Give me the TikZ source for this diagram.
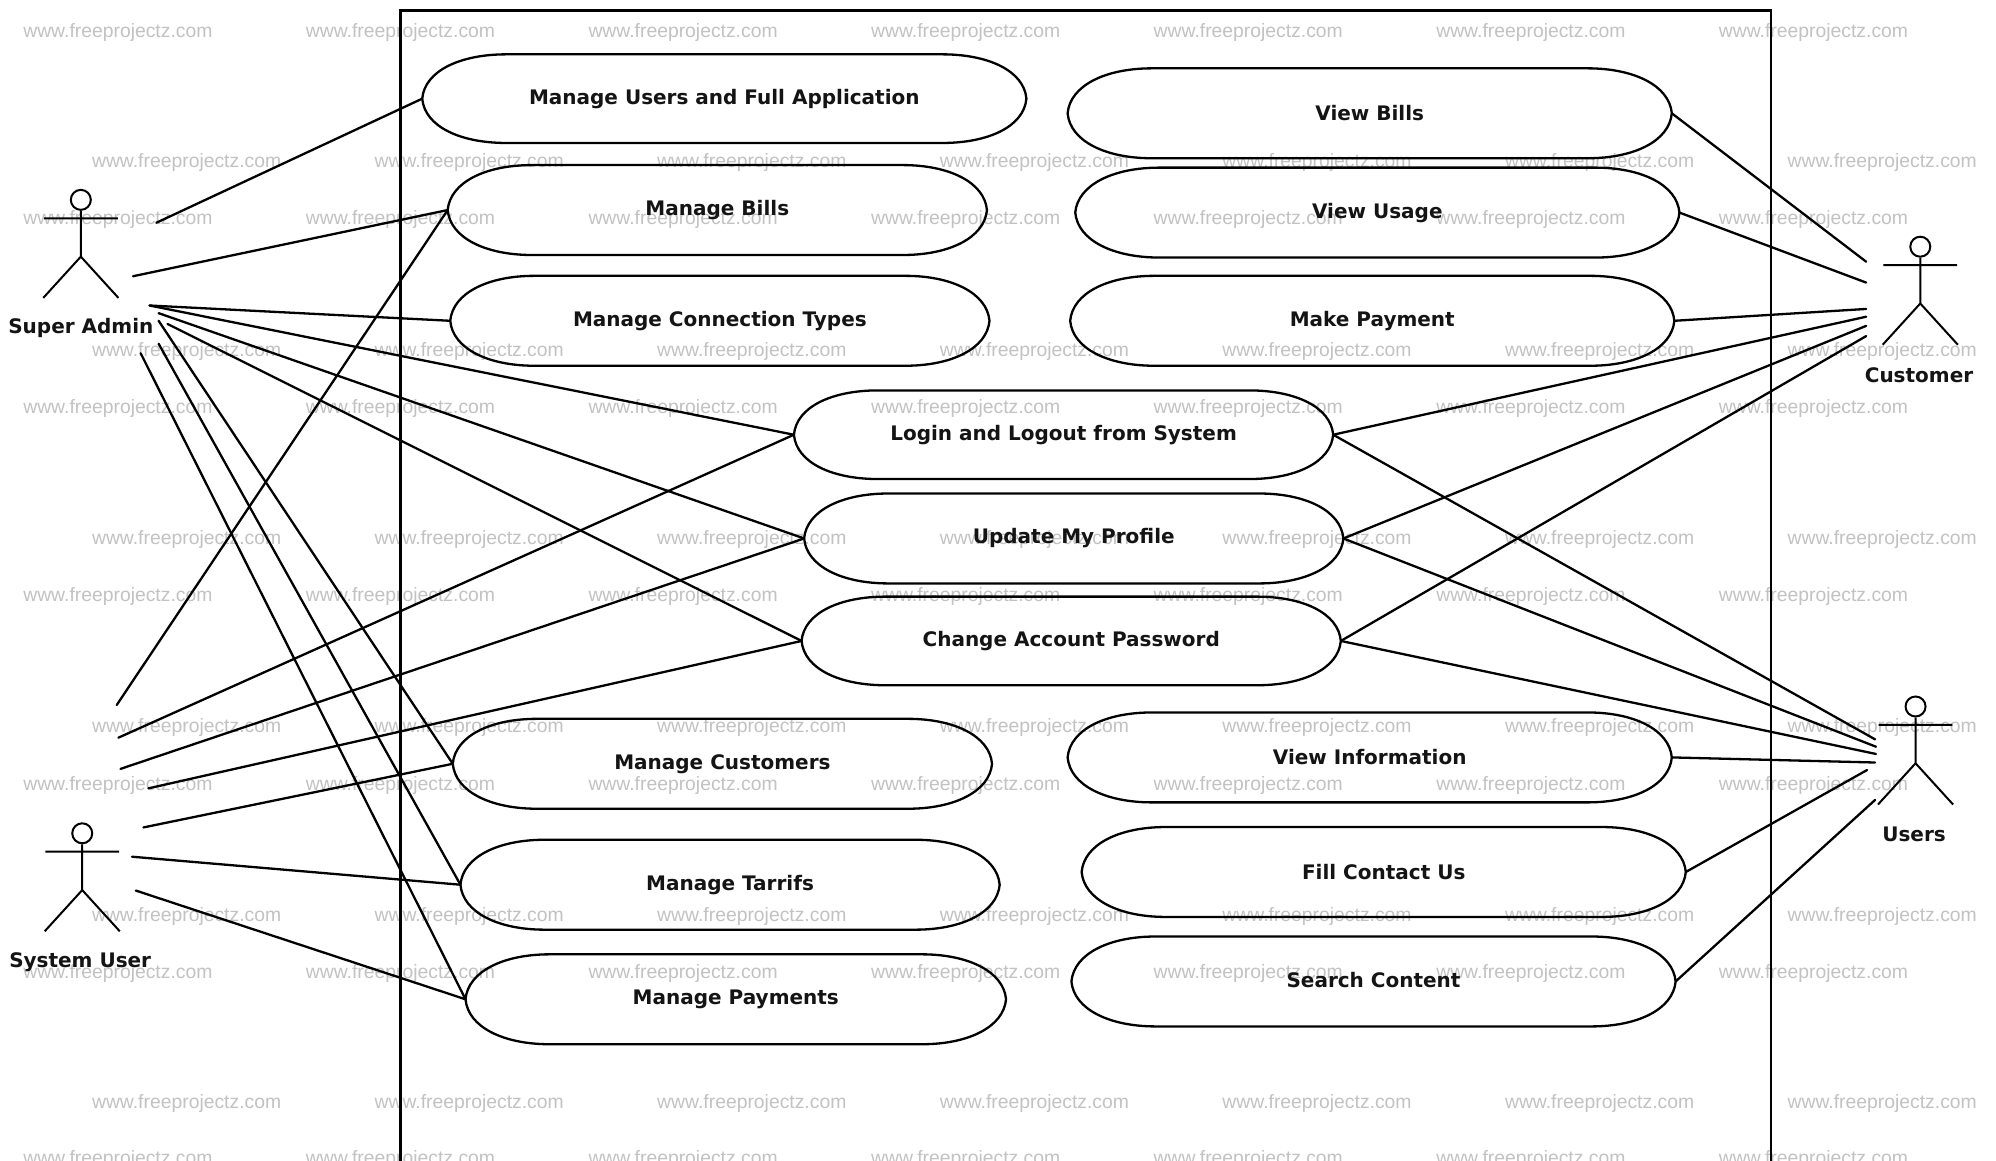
\documentclass[tikz,border=0pt]{standalone}
\usepackage{fontspec}
\setmainfont{DejaVu Sans}
\newfontfamily\wmfont{Liberation Sans}
\usetikzlibrary{calc}
\tikzset{
  x=0.6365pt, y=-0.6365pt,
  link/.style={draw=black, line width=1.15pt, line cap=round},
  outline/.style={draw=black, line width=1.15pt, line join=round},
  frameline/.style={draw=black, line width=1.2pt},
  watermark/.style={text=black!24, font=\wmfont\fontsize{9.67}{11}\selectfont, inner sep=0pt},
  uclabel/.style={font=\bfseries\fontsize{10}{11}\selectfont, text=black!92, inner sep=0pt, shape=rectangle},
  actorlabel/.style={font=\bfseries\fontsize{10}{11}\selectfont, text=black!92, inner sep=0pt},
  actorline/.style={draw=black, line width=1pt},
  head/.style={circle, draw=black, line width=1pt, inner sep=0pt, minimum size=10pt}
}
% [text raise], name, left, right, top, bottom, text
\newcommand\usecasebox[7][-0.5pt]{%
  \node[uclabel, minimum width={(#4-#3)*0.6365pt}, minimum height={(#6-#5)*0.6365pt}] (#2) at ({(#3+#4)/2},{(#5+#6)/2}) {\raisebox{#1}{#7}};
  \draw[outline] (#2.west)
    .. controls ($(#2.west)+(2,-22)$) and ($(#2.north west)+(30,0)$) .. ($(#2.north west)+(66,0)$)
    -- ($(#2.north east)+(-66,0)$)
    .. controls ($(#2.north east)+(-30,0)$) and ($(#2.east)+(-2,-22)$) .. (#2.east)
    .. controls ($(#2.east)+(-2,22)$) and ($(#2.south east)+(-30,0)$) .. ($(#2.south east)+(-66,0)$)
    -- ($(#2.south west)+(66,0)$)
    .. controls ($(#2.south west)+(30,0)$) and ($(#2.west)+(2,22)$) .. (#2.west) -- cycle;
}
% name, head x, head y, label x, label y, text
\newcommand\umlactor[6]{%
  \node[head] (#1head) at (#2,#3) {};
  \coordinate (#1hip) at (#2,#3+44.6);
  \coordinate (#1armL) at (#2-29,#3+14.5);
  \coordinate (#1armR) at (#2+29,#3+14.5);
  \coordinate (#1footL) at (#2-29.5,#3+77);
  \coordinate (#1footR) at (#2+29.5,#3+77);
  \draw[actorline] (#1head) -- (#1hip) (#1armL) -- (#1armR) (#1footL) -- (#1hip) -- (#1footR);
  \node[actorlabel] (#1label) at (#4,#5) {#6};
}
\begin{document}
\begin{tikzpicture}
\useasboundingbox (0,0) rectangle (1568,911.3);
\clip (0,0) rectangle (1568,911.3);
\fill[white] (0,0) rectangle (1568,911.3);
% watermarks
\foreach \wy [count=\i] in {25.8,172.8,320.8,468.8,616.8,764.8,910.5}
  \foreach \wx [count=\j] in {92.6,314.6,536.6,758.6,980.6,1202.6,1424.6}
    \node[watermark] (wa\i\j) at (\wx,\wy) {www.freeprojectz.com};
\foreach \wy [count=\i] in {127.8,275.8,423.8,571.8,719.8,866.8}
  \foreach \wx [count=\j] in {146.6,368.6,590.6,812.6,1034.6,1256.6,1478.6}
    \node[watermark] (wb\i\j) at (\wx,\wy) {www.freeprojectz.com};
% system boundary
\coordinate (fbl) at (314.5,915);
\coordinate (ftl) at (314.5,8);
\coordinate (ftr) at (1391,8);
\coordinate (fbr) at (1391,915);
\draw[frameline] (fbl) -- (ftl) -- (ftr) -- (fbr);
\draw[frameline, line width=1.6pt] (ftl) -- (ftr);
% use cases
\usecasebox{ucFull}{332}{806}{43}{112}{Manage Users and Full Application}
\usecasebox{ucBills}{352}{775}{130}{200}{Manage Bills}
\usecasebox{ucConn}{354}{777}{217}{287}{Manage Connection Types}
\usecasebox{ucLogin}{624}{1047}{307}{376}{Login and Logout from System}
\usecasebox[0pt]{ucProfile}{632}{1055}{388}{458}{Update My Profile}
\usecasebox[0pt]{ucPass}{630}{1053}{469}{538}{Change Account Password}
\usecasebox[-1pt]{ucCust}{356}{779}{565}{635}{Manage Customers}
\usecasebox{ucTarr}{362}{785}{660}{730}{Manage Tarrifs}
\usecasebox{ucPay}{366}{790}{750}{820}{Manage Payments}
\usecasebox[0.5pt]{ucVBills}{839}{1313}{54}{124}{View Bills}
\usecasebox{ucVUse}{845}{1319}{132}{202}{View Usage}
\usecasebox{ucMake}{841}{1315}{217}{287}{Make Payment}
\usecasebox[0pt]{ucInfo}{839}{1313}{560}{630}{View Information}
\usecasebox[0pt]{ucFill}{850}{1324}{650}{720}{Fill Contact Us}
\usecasebox[1.2pt]{ucSearch}{842}{1316}{736}{806}{Search Content}
% actors
\umlactor{sa}{63.5}{157}{63.5}{258}{Super Admin}
\umlactor{su}{64.6}{654.6}{63}{756}{System User}
\umlactor{cu}{1508.5}{193.8}{1507.5}{294.5}{Customer}
\umlactor{us}{1504.8}{555}{1503.6}{655.5}{Users}
% free connector ends
\coordinate (sa1) at (122.8,175);
\coordinate (sa2) at (104.5,217);
\coordinate (sa3) at (117.5,240);
\coordinate (sa4) at (124.6,246);
\coordinate (sa5) at (131.6,254.5);
\coordinate (sa6) at (124.6,252);
\coordinate (sa7) at (124.6,270);
\coordinate (sa8) at (110.5,277.5);
\coordinate (su1) at (91.7,553.8);
\coordinate (su2) at (93,579.5);
\coordinate (su3) at (94.7,604);
\coordinate (su4) at (116.6,619.3);
\coordinate (su5) at (112.7,650);
\coordinate (su6) at (103.7,673);
\coordinate (su7) at (106.7,699.6);
\coordinate (cu1) at (1466,205.6);
\coordinate (cu2) at (1466,222);
\coordinate (cu3) at (1466,242.7);
\coordinate (cu4) at (1466,248.8);
\coordinate (cu5) at (1466,256);
\coordinate (cu6) at (1466,264);
\coordinate (us1) at (1473,580.8);
\coordinate (us2) at (1473.7,586.6);
\coordinate (us3) at (1473.7,592.3);
\coordinate (us4) at (1473,599);
\coordinate (us5) at (1466.7,604.9);
\coordinate (us6) at (1473,628.4);
% connectors
\draw[link] (sa1) -- (ucFull.west);
\draw[link] (sa2) -- (ucBills.west);
\draw[link] (sa3) -- (ucConn.west);
\draw[link] (sa3) -- (ucLogin.west);
\draw[link] (sa4) -- (ucProfile.west);
\draw[link] (sa5) -- (ucPass.west);
\draw[link] (sa6) -- (ucCust.west);
\draw[link] (sa7) -- (ucTarr.west);
\draw[link] (sa8) -- (ucPay.west);
\draw[link] (su1) -- (ucBills.west);
\draw[link] (su2) -- (ucLogin.west);
\draw[link] (su3) -- (ucProfile.west);
\draw[link] (su4) -- (ucPass.west);
\draw[link] (su5) -- (ucCust.west);
\draw[link] (su6) -- (ucTarr.west);
\draw[link] (su7) -- (ucPay.west);
\draw[link] (cu1) -- (ucVBills.east);
\draw[link] (cu2) -- (ucVUse.east);
\draw[link] (cu3) -- (ucMake.east);
\draw[link] (cu4) -- (ucLogin.east);
\draw[link] (cu5) -- (ucProfile.east);
\draw[link] (cu6) -- (ucPass.east);
\draw[link] (us1) -- (ucLogin.east);
\draw[link] (us2) -- (ucProfile.east);
\draw[link] (us3) -- (ucPass.east);
\draw[link] (us4) -- (ucInfo.east);
\draw[link] (us5) -- (ucFill.east);
\draw[link] (us6) -- (ucSearch.east);
\end{tikzpicture}
\end{document}
